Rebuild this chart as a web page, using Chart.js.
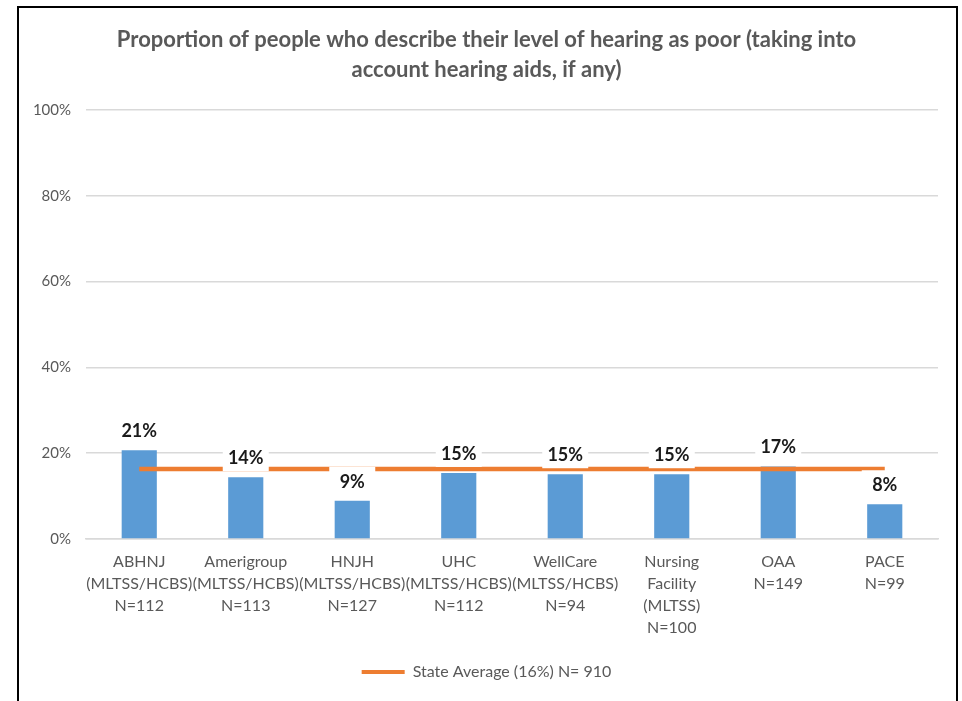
<!DOCTYPE html>
<html>
<head>
<meta charset="utf-8">
<script src="https://cdn.jsdelivr.net/npm/chart.js@4/dist/chart.umd.min.js"></script>
<style>
  html, body { margin: 0; padding: 0; background: #fff; }
  #wrap { position: relative; width: 962px; height: 701px; overflow: hidden; }
  #frame { position: absolute; left: 17px; top: 6px; width: 937px; height: 720px; border: 2px solid #000; pointer-events: none; }
  canvas { position: absolute; left: 0; top: 0; }
</style>
</head>
<body>
<div id="wrap">
  <canvas id="c" width="962" height="701"></canvas>
  <div id="frame"></div>
</div>
<script>
const titleLines = ['Proportion of people who describe their level of hearing as poor (taking into', 'account hearing aids, if any)'];
const categories = [
  ['ABHNJ', '(MLTSS/HCBS)', 'N=112'],
  ['Amerigroup', '(MLTSS/HCBS)', 'N=113'],
  ['HNJH', '(MLTSS/HCBS)', 'N=127'],
  ['UHC', '(MLTSS/HCBS)', 'N=112'],
  ['WellCare', '(MLTSS/HCBS)', 'N=94'],
  ['Nursing', 'Facility', '(MLTSS)', 'N=100'],
  ['OAA', 'N=149'],
  ['PACE', 'N=99']
];
const poorHearing = [20.7, 14.4, 8.9, 15.4, 15.1, 15.1, 16.9, 8.1];
const stateAverage = [16.3, 16.3, 16.3, 16.3, 16.3, 16.3, 16.3, 16.3];
const stateLabel = 'State Average (16%) N= 910';
const yTicks = [0, 20, 40, 60, 80, 100];

const FONT = 'Lato';
const GRAY = '#595959';

const labelPlugin = {
  id: 'barLabels',
  afterDatasetsDraw(chart) {
    const meta = chart.getDatasetMeta(0);
    const ctx = chart.ctx;
    ctx.save();
    ctx.font = 'bold 18px ' + FONT;
    ctx.textAlign = 'center';
    ctx.textBaseline = 'middle';
    meta.data.forEach((el, i) => {
      const cy = el.y - 20;
      ctx.fillStyle = '#ffffff';
      ctx.fillRect(el.x - 23, cy - 14, 46, 28);
      ctx.fillStyle = '#1a1a1a';
      ctx.fillText(Math.round(poorHearing[i]) + '%', el.x, cy + 1);
    });
    ctx.restore();
  }
};

new Chart(document.getElementById('c'), {
  type: 'bar',
  data: {
    labels: categories,
    datasets: [
      {
        type: 'bar',
        label: 'Poor hearing',
        data: poorHearing,
        backgroundColor: '#5B9BD5',
        barPercentage: 0.33,
        categoryPercentage: 1,
        order: 2
      },
      {
        type: 'line',
        label: stateLabel,
        data: stateAverage,
        borderColor: '#ED7D31',
        backgroundColor: '#ED7D31',
        borderWidth: 4.5,
        pointRadius: 0,
        fill: false,
        order: 1
      }
    ]
  },
  options: {
    responsive: false,
    animation: false,
    layout: { padding: { top: 10, left: 17, right: 6, bottom: 11 } },
    plugins: {
      tooltip: { enabled: false },
      title: {
        display: true,
        text: titleLines,
        color: GRAY,
        font: { family: FONT, size: 22, weight: 'bold', lineHeight: 1.364 },
        padding: { top: 15, bottom: 25 }
      },
      legend: {
        position: 'bottom',
        labels: {
          color: GRAY,
          font: { family: FONT, size: 16 },
          boxWidth: 43,
          boxHeight: 4,
          padding: 10,
          generateLabels: (chart) => [{
            text: stateLabel,
            fillStyle: '#ED7D31',
            strokeStyle: '#ED7D31',
            lineWidth: 0,
            hidden: false,
            datasetIndex: 1,
            fontColor: GRAY
          }]
        }
      }
    },
    scales: {
      x: {
        grid: { display: false },
        border: { display: true, color: '#D9D9D9', width: 1.5 },
        ticks: {
          color: GRAY,
          font: { family: FONT, size: 16, lineHeight: 1.375 },
          maxRotation: 0,
          autoSkip: false,
          padding: 4
        },
        afterFit: (s) => { s.height = 115; }
      },
      y: {
        min: 0,
        max: 100,
        afterBuildTicks: (s) => { s.ticks = yTicks.map(v => ({ value: v })); },
        grid: { color: '#D9D9D9', lineWidth: 1.5, drawTicks: false },
        border: { display: false },
        ticks: {
          color: GRAY,
          font: { family: FONT, size: 15 },
          padding: 15,
          callback: (v) => v + '%'
        },
        afterFit: (s) => { s.width = 69; }
      },
      y2: {
        position: 'right',
        display: true,
        grid: { display: false },
        border: { display: false },
        ticks: { display: false },
        afterFit: (s) => { s.width = 18; }
      }
    }
  },
  plugins: [labelPlugin]
});
</script>
</body>
</html>
